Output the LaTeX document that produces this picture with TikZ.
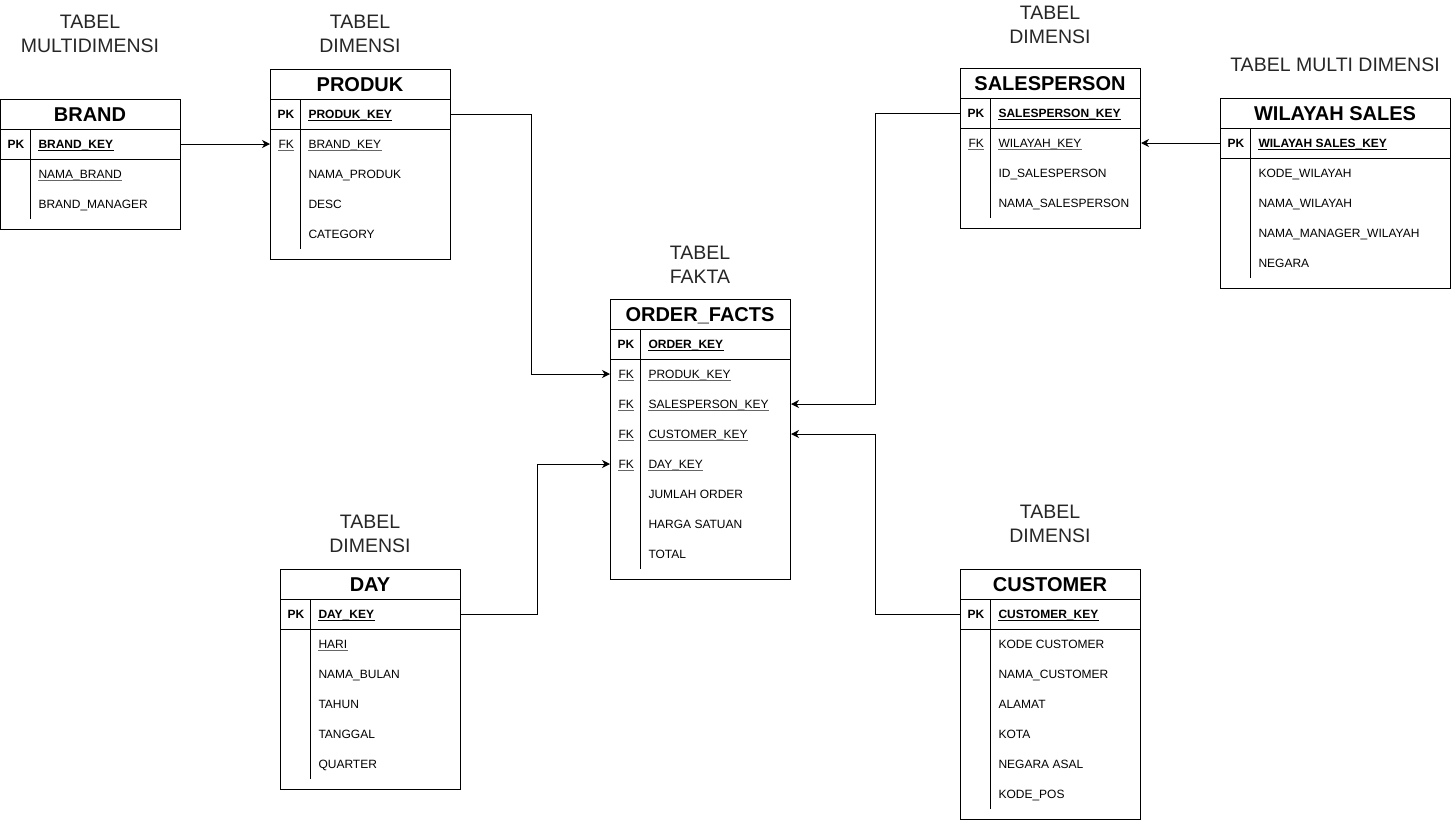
\documentclass[tikz,border=0pt]{standalone}
\usepackage{fontspec}
\setmainfont{Liberation Sans}
\usetikzlibrary{arrows.meta}
\usetikzlibrary{positioning}

\begin{document}
\begin{tikzpicture}[x=1pt, y=-1pt, line width=1pt,
    tbl/.style={draw, anchor=north west, inner sep=0pt},
    ttl/.style={font=\fontsize{20}{24}\selectfont\bfseries, text height=14.3pt, text depth=0pt, inner sep=0pt},
    fld/.style={anchor=west, inner sep=0pt, text height=8.6pt, text depth=0pt, font=\fontsize{12}{14}\selectfont},
    kfld/.style={fld, font=\fontsize{12}{14}\selectfont\bfseries},
    ul/.style={append after command={([yshift=-2.6pt]\tikzlastnode.base west) edge[line width=0.9pt, draw=black!60] ([yshift=-2.6pt]\tikzlastnode.base east)}},
    kul/.style={append after command={([yshift=-2.6pt]\tikzlastnode.base west) edge[line width=0.9pt] ([yshift=-2.6pt]\tikzlastnode.base east)}},
    lbl/.style={align=center, inner sep=0pt, font=\fontsize{19.5}{24}\selectfont, text=black!85},
    rel/.style={-{Stealth[length=8pt, width=8pt, inset=2.5pt]}}]
    \useasboundingbox (0,0) rectangle (1454,820);

    % labels
    \node [lbl] (lbl-brand) at (90,34) {TABEL\\MULTIDIMENSI};
    \node [lbl] (lbl-produk) at (360,34) {TABEL\\DIMENSI};
    \node [lbl] (lbl-sales) at (1050,25) {TABEL\\DIMENSI};
    \node [lbl] (lbl-wil) at (1335,65) {TABEL MULTI DIMENSI};
    \node [lbl] (lbl-order) at (700,265) {TABEL\\FAKTA};
    \node [lbl] (lbl-day) at (370,534) {TABEL\\DIMENSI};
    \node [lbl] (lbl-cust) at (1050,524) {TABEL\\DIMENSI};

    % BRAND
    \node [tbl, minimum width=180pt, minimum height=130pt] (brand) at (0,99) {};
    \node [ttl] (brand-ttl) at (90,114) {BRAND};
    \draw (0,129) -- (180,129) (0,159) -- (180,159) (30,129) -- (30,219);
    \node [kfld] (brand-pk) at (7,144) {PK};
    \node [kfld, kul] (brand-key) at (38,144) {BRAND\_KEY};
    \node [fld, ul] (brand-r1) at (38,174) {NAMA\_BRAND};
    \node [fld] (brand-r2) at (38,204) {BRAND\_MANAGER};

    % PRODUK
    \node [tbl, minimum width=180pt, minimum height=190pt] (produk) at (270,69) {};
    \node [ttl] (produk-ttl) at (360,84) {PRODUK};
    \draw (270,99) -- (450,99) (270,129) -- (450,129) (300,99) -- (300,249);
    \node [kfld] (produk-pk) at (277,114) {PK};
    \node [kfld, kul] (produk-key) at (308,114) {PRODUK\_KEY};
    \node [fld, ul] (produk-fkl) at (278,144) {FK};
    \node [fld, ul] (produk-fk) at (308,144) {BRAND\_KEY};
    \foreach \txt [count=\i] in {NAMA\_PRODUK, DESC, CATEGORY}
      \node [fld] (produk-r\i) at (308,{144+30*\i}) {\txt};

    % ORDER_FACTS
    \node [tbl, minimum width=180pt, minimum height=280pt] (order) at (610,299) {};
    \node [ttl] (order-ttl) at (700,314) {ORDER\_FACTS};
    \draw (610,329) -- (790,329) (610,359) -- (790,359) (640,329) -- (640,569);
    \node [kfld] (order-pk) at (617,344) {PK};
    \node [kfld, kul] (order-key) at (648,344) {ORDER\_KEY};
    \foreach \txt [count=\i] in {PRODUK\_KEY, SALESPERSON\_KEY, CUSTOMER\_KEY, DAY\_KEY} {
      \node [fld, ul] (order-fkl\i) at (618,{344+30*\i}) {FK};
      \node [fld, ul] (order-fk\i) at (648,{344+30*\i}) {\txt};
    }
    \foreach \txt [count=\i] in {JUMLAH ORDER, HARGA SATUAN, TOTAL}
      \node [fld] (order-r\i) at (648,{464+30*\i}) {\txt};

    % DAY
    \node [tbl, minimum width=180pt, minimum height=220pt] (day) at (280,569) {};
    \node [ttl] (day-ttl) at (370,584) {DAY};
    \draw (280,599) -- (460,599) (280,629) -- (460,629) (310,599) -- (310,779);
    \node [kfld] (day-pk) at (287,614) {PK};
    \node [kfld, kul] (day-key) at (318,614) {DAY\_KEY};
    \node [fld, ul] (day-r1) at (318,644) {HARI};
    \foreach \txt [count=\i from 2] in {NAMA\_BULAN, TAHUN, TANGGAL, QUARTER}
      \node [fld] (day-r\i) at (318,{614+30*\i}) {\txt};

    % SALESPERSON
    \node [tbl, minimum width=180pt, minimum height=160pt] (sales) at (960,68) {};
    \node [ttl] (sales-ttl) at (1050,83) {SALESPERSON};
    \draw (960,98) -- (1140,98) (960,128) -- (1140,128) (990,98) -- (990,218);
    \node [kfld] (sales-pk) at (967,113) {PK};
    \node [kfld, kul] (sales-key) at (998,113) {SALESPERSON\_KEY};
    \node [fld, ul] (sales-fkl) at (968,143) {FK};
    \node [fld, ul] (sales-fk) at (998,143) {WILAYAH\_KEY};
    \foreach \txt [count=\i] in {ID\_SALESPERSON, NAMA\_SALESPERSON}
      \node [fld] (sales-r\i) at (998,{143+30*\i}) {\txt};

    % WILAYAH SALES
    \node [tbl, minimum width=230pt, minimum height=190pt] (wil) at (1220,98) {};
    \node [ttl] (wil-ttl) at (1335,113) {WILAYAH SALES};
    \draw (1220,128) -- (1450,128) (1220,158) -- (1450,158) (1250,128) -- (1250,278);
    \node [kfld] (wil-pk) at (1227,143) {PK};
    \node [kfld, kul] (wil-key) at (1258,143) {WILAYAH SALES\_KEY};
    \foreach \txt [count=\i] in {KODE\_WILAYAH, NAMA\_WILAYAH, NAMA\_MANAGER\_WILAYAH, NEGARA}
      \node [fld] (wil-r\i) at (1258,{143+30*\i}) {\txt};

    % CUSTOMER
    \node [tbl, minimum width=180pt, minimum height=250pt] (cust) at (960,569) {};
    \node [ttl] (cust-ttl) at (1050,584) {CUSTOMER};
    \draw (960,599) -- (1140,599) (960,629) -- (1140,629) (990,599) -- (990,809);
    \node [kfld] (cust-pk) at (967,614) {PK};
    \node [kfld, kul] (cust-key) at (998,614) {CUSTOMER\_KEY};
    \foreach \txt [count=\i] in {KODE CUSTOMER, NAMA\_CUSTOMER, ALAMAT, KOTA, NEGARA ASAL, KODE\_POS}
      \node [fld] (cust-r\i) at (998,{614+30*\i}) {\txt};

    % relations
    \draw [rel] (brand-key -| brand.east) -- (produk-fk -| produk.west);
    \draw [rel] (produk-key -| produk.east) -- ++(80,0) |- (order-fk1 -| order.west);
    \draw [rel] (day-key -| day.east) -- ++(76,0) |- (order-fk4 -| order.west);
    \draw [rel] (sales-key -| sales.west) -- ++(-85,0) |- (order-fk2 -| order.east);
    \draw [rel] (cust-key -| cust.west) -- ++(-85,0) |- (order-fk3 -| order.east);
    \draw [rel] (wil-key -| wil.west) -- (sales-fk -| sales.east);
\end{tikzpicture}
\end{document}
